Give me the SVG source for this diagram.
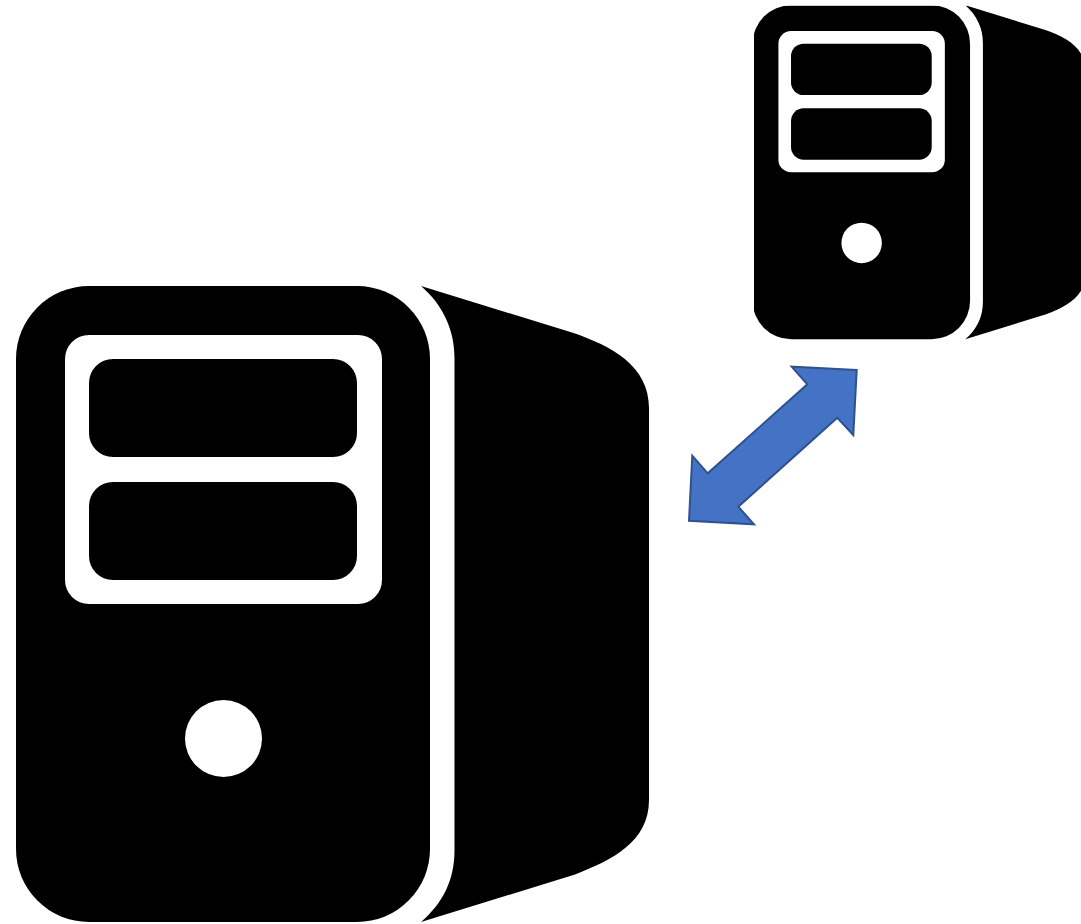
<svg xmlns="http://www.w3.org/2000/svg" width="1081" height="924" viewBox="0 0 1081 924">
<style>.k{fill:#000}.w{fill:#fff}.arrow{fill:#4472c4;stroke:#2f528f;stroke-width:2;stroke-linejoin:miter}</style>
<defs>
<clipPath id="smallClip"><rect x="754" y="5.700" width="327" height="340"/></clipPath>
<g id="pc">
<rect class="k" x="16" y="286" width="414" height="636" rx="73" ry="73"/>
<rect class="w" x="65" y="335" width="317" height="269" rx="24" ry="24"/>
<rect class="k" x="89" y="359" width="268" height="98" rx="24" ry="24"/>
<rect class="k" x="89" y="482" width="268" height="98" rx="24" ry="24"/>
<circle class="w" cx="223.500" cy="738.500" r="38.500"/>
<path class="k" d="M421 286 L572 332.500 C612 346 649 366 649 408 L649 800 C649 842 612 860 575 874.500 L421 922 C443 903 454.500 880 454.500 850 L454.500 358 C454.500 330 443 305 421 286 Z"/>
</g>
</defs>
<rect class="w" width="1081" height="924"/>
<g id="server-large"><use href="#pc"/></g>
<g id="server-small" clip-path="url(#smallClip)"><use href="#pc" transform="translate(744.300 -144.800) scale(0.525)"/></g>
<g id="connectors">
<path class="arrow" d="M856.700 370 L791.700 366.700 L807.300 384.300 L707.700 473.300 L692.300 455.700 L689 520.700 L754 524.300 L738.300 506.700 L837.300 417.700 L853.300 435 Z"/>
</g>
</svg>
